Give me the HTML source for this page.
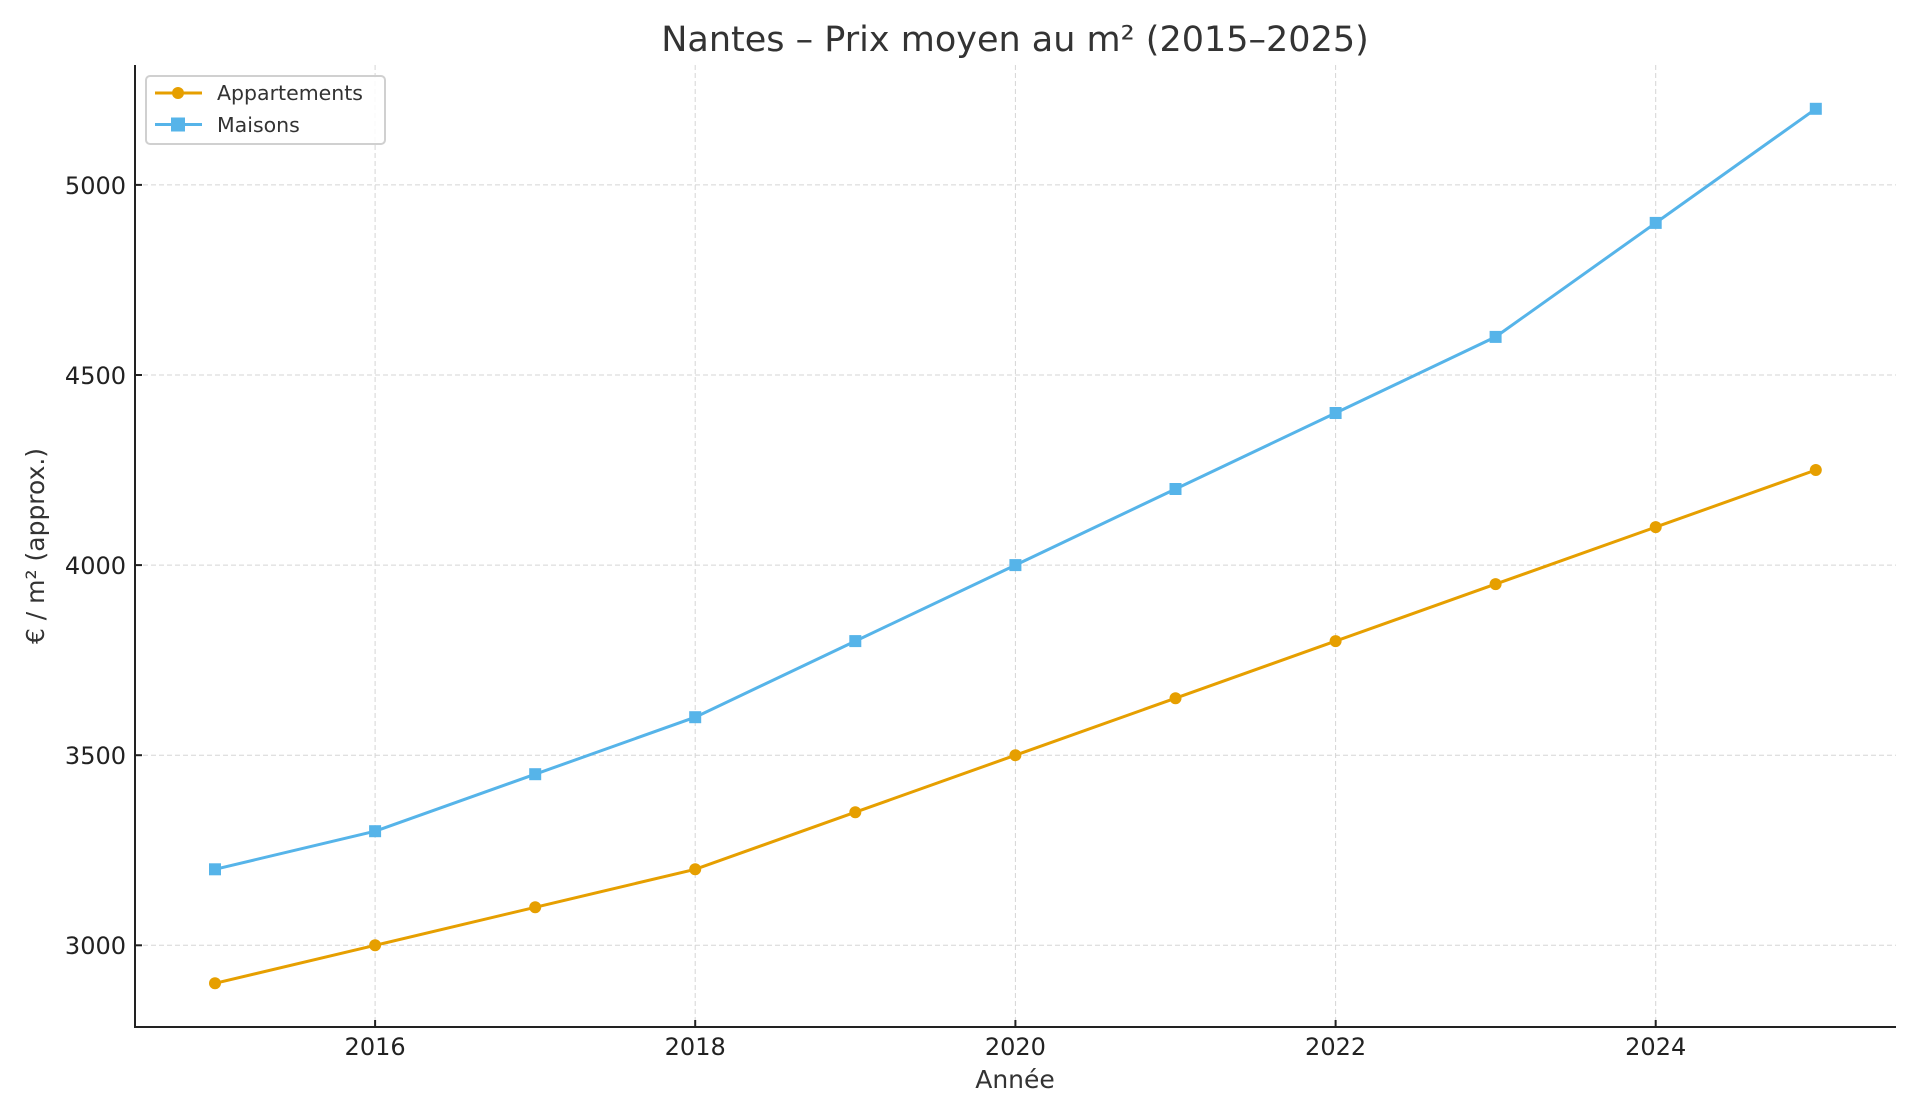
<!DOCTYPE html>
<html><head><meta charset="utf-8"><style>body{margin:0;background:#fff}svg{display:block}text{font-family:"DejaVu Sans","Liberation Sans",sans-serif}</style></head>
<body>
<svg width="1920" height="1120" viewBox="0 0 1920 1120" xmlns="http://www.w3.org/2000/svg">
<rect width="1920" height="1120" fill="#fff"/>
<g stroke="#d5d5d5" stroke-width="1" stroke-dasharray="5,3">
<line x1="375.1" y1="65" x2="375.1" y2="1027"/><line x1="695.2" y1="65" x2="695.2" y2="1027"/><line x1="1015.4" y1="65" x2="1015.4" y2="1027"/><line x1="1335.6" y1="65" x2="1335.6" y2="1027"/><line x1="1655.7" y1="65" x2="1655.7" y2="1027"/>
<line x1="135" y1="945.3" x2="1896" y2="945.3"/><line x1="135" y1="755.2" x2="1896" y2="755.2"/><line x1="135" y1="565.1" x2="1896" y2="565.1"/><line x1="135" y1="375" x2="1896" y2="375"/><line x1="135" y1="184.9" x2="1896" y2="184.9"/>
</g>
<g stroke="#222" stroke-width="2" fill="none">
<polyline points="135,65 135,1027 1896,1027"/>
<line x1="375.1" y1="1027" x2="375.1" y2="1020"/><line x1="695.2" y1="1027" x2="695.2" y2="1020"/><line x1="1015.4" y1="1027" x2="1015.4" y2="1020"/><line x1="1335.6" y1="1027" x2="1335.6" y2="1020"/><line x1="1655.7" y1="1027" x2="1655.7" y2="1020"/>
<line x1="135" y1="945.3" x2="142" y2="945.3"/><line x1="135" y1="755.2" x2="142" y2="755.2"/><line x1="135" y1="565.1" x2="142" y2="565.1"/><line x1="135" y1="375" x2="142" y2="375"/><line x1="135" y1="184.9" x2="142" y2="184.9"/>
</g>
<g font-size="24" fill="#222" text-anchor="middle">
<text x="375.1" y="1055">2016</text><text x="695.2" y="1055">2018</text><text x="1015.4" y="1055">2020</text><text x="1335.6" y="1055">2022</text><text x="1655.7" y="1055">2024</text>
</g>
<g font-size="24" fill="#222" text-anchor="end">
<text x="126" y="954">3000</text><text x="126" y="764">3500</text><text x="126" y="574">4000</text><text x="126" y="384">4500</text><text x="126" y="194">5000</text>
</g>
<text x="1015" y="1088" font-size="25" fill="#333" text-anchor="middle">Année</text>
<text transform="translate(44,546) rotate(-90)" font-size="25" fill="#333" text-anchor="middle">€ / m² (approx.)</text>
<text x="1015" y="51" font-size="35" fill="#333" text-anchor="middle">Nantes – Prix moyen au m² (2015–2025)</text>
<polyline fill="none" stroke="#E69F00" stroke-width="3" points="215,983.3 375.1,945.3 535.2,907.3 695.2,869.3 855.3,812.2 1015.4,755.2 1175.5,698.2 1335.6,641.1 1495.6,584.1 1655.7,527.1 1815.8,470"/>
<g fill="#E69F00"><circle cx="215" cy="983.3" r="6"/><circle cx="375.1" cy="945.3" r="6"/><circle cx="535.2" cy="907.3" r="6"/><circle cx="695.2" cy="869.3" r="6"/><circle cx="855.3" cy="812.2" r="6"/><circle cx="1015.4" cy="755.2" r="6"/><circle cx="1175.5" cy="698.2" r="6"/><circle cx="1335.6" cy="641.1" r="6"/><circle cx="1495.6" cy="584.1" r="6"/><circle cx="1655.7" cy="527.1" r="6"/><circle cx="1815.8" cy="470" r="6"/></g>
<polyline fill="none" stroke="#56B4E9" stroke-width="3" points="215,869.3 375.1,831.2 535.2,774.2 695.2,717.2 855.3,641.1 1015.4,565.1 1175.5,489 1335.6,413 1495.6,336.9 1655.7,222.9 1815.8,108.8"/>
<g fill="#56B4E9">
<rect x="209" y="863.3" width="12" height="12"/><rect x="369.1" y="825.2" width="12" height="12"/><rect x="529.2" y="768.2" width="12" height="12"/><rect x="689.2" y="711.2" width="12" height="12"/><rect x="849.3" y="635.1" width="12" height="12"/><rect x="1009.4" y="559.1" width="12" height="12"/><rect x="1169.5" y="483" width="12" height="12"/><rect x="1329.6" y="407" width="12" height="12"/><rect x="1489.6" y="330.9" width="12" height="12"/><rect x="1649.7" y="216.9" width="12" height="12"/><rect x="1809.8" y="102.8" width="12" height="12"/>
</g>
<rect x="146" y="76" width="239" height="68" rx="4" fill="#fff" fill-opacity="0.85" stroke="#d0d0d0" stroke-width="2"/>
<line x1="155" y1="93" x2="202" y2="93" stroke="#E69F00" stroke-width="3"/><circle cx="178" cy="93" r="6" fill="#E69F00"/>
<line x1="155" y1="124.5" x2="202" y2="124.5" stroke="#56B4E9" stroke-width="3"/><rect x="171" y="117.5" width="14" height="14" fill="#56B4E9"/>
<g font-size="20.5" fill="#333"><text x="217" y="100">Appartements</text><text x="217" y="132">Maisons</text></g>
</svg>
</body></html>
